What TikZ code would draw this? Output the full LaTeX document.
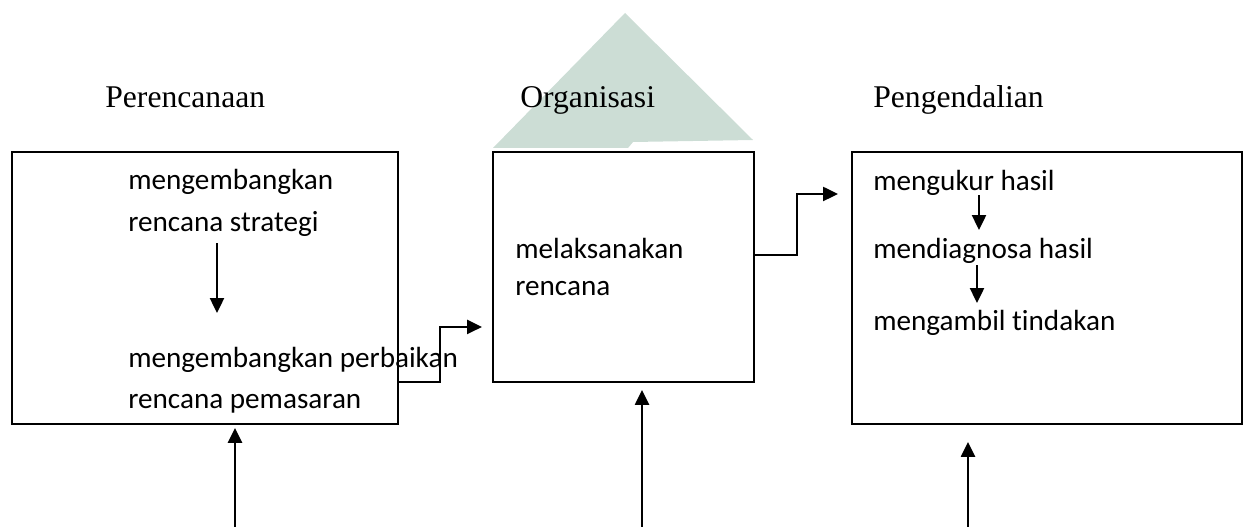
\documentclass[tikz,border=0pt]{standalone}
\usepackage{fontspec}
\setmainfont{Liberation Serif}
\newfontfamily\boxfont[Ligatures=NoCommon]{Carlito}
\usetikzlibrary{arrows.meta}
\definecolor{watermark}{RGB}{204,221,213}
\begin{document}
\begin{tikzpicture}[x=0.02cm,y=-0.02cm,
    title/.style={anchor=base west,inner sep=0,font=\fontsize{18}{20}\selectfont},
    txt/.style={anchor=base west,inner sep=0,font=\boxfont\fontsize{16.6}{20}\selectfont},
    box/.style={draw,line width=1.4pt,anchor=north west,inner sep=0,outer sep=0},
    arr/.style={line width=1.4pt,-{Triangle[length=0.3cm,width=0.28cm]}}]
        \useasboundingbox (0,0) rectangle (1248,527);
        % faded mark behind the middle title
        \fill[watermark] (493,148) -- (625,13) -- (753,140) -- (633,142) -- (628,148) -- cycle;
        % titles
        \node[title] (plan) at (105,108) {Perencanaan};
        \node[title] (org) at (520,108) {Organisasi};
        \node[title] (ctrl) at (873,108) {Pengendalian};
        % boxes
        \node[box,minimum width=7.72cm,minimum height=5.44cm] (b1) at (12,152) {};
        \node[box,minimum width=5.22cm,minimum height=4.6cm] (b2) at (493,152) {};
        \node[box,minimum width=7.8cm,minimum height=5.44cm] (b3) at (852,152) {};
        % texts in the first box
        \node[txt] (t1a) at (128,190) {mengembangkan};
        \node[txt] (t1b) at (128,231) {rencana strategi};
        \node[txt] (t1c) at (128,367) {mengembangkan perbaikan};
        \node[txt] (t1d) at (128,408) {rencana pemasaran};
        \coordinate (s1) at (217,243);
        \coordinate (e1) at (217,313);
        \draw[arr] (s1) -- (e1);
        % texts in the second box
        \node[txt] (t2a) at (515,258) {melaksanakan};
        \node[txt] (t2b) at (515,295) {rencana};
        % texts in the third box
        \node[txt] (t3a) at (873,191) {mengukur hasil};
        \node[txt] (t3b) at (873,258) {mendiagnosa hasil};
        \node[txt] (t3c) at (873,330) {mengambil tindakan};
        \coordinate (s2) at (979,195);
        \coordinate (e2) at (979,230);
        \draw[arr] (s2) -- (e2);
        \coordinate (s3) at (977,265);
        \coordinate (e3) at (977,303);
        \draw[arr] (s3) -- (e3);
        % links between boxes
        \draw[arr,shorten >=0.22cm] ([yshift=-1.88cm]b1.east) -- ++(42,0) |- ([yshift=-1.2cm]b2.west);
        \draw[arr,shorten >=0.28cm] ([yshift=0.24cm]b2.east) -- ++(43,0) |- ([yshift=1.88cm]b3.west);
        % inputs from below
        \coordinate (in1) at (235,527);
        \coordinate (in2) at (642,527);
        \coordinate (in3) at (968,527);
        \draw[arr,shorten >=0.08cm] (in1) -- (in1 |- b1.south);
        \draw[arr,shorten >=0.16cm] (in2) -- (in2 |- b2.south);
        \draw[arr,shorten >=0.36cm] (in3) -- (in3 |- b3.south);
    \end{tikzpicture}
\end{document}
